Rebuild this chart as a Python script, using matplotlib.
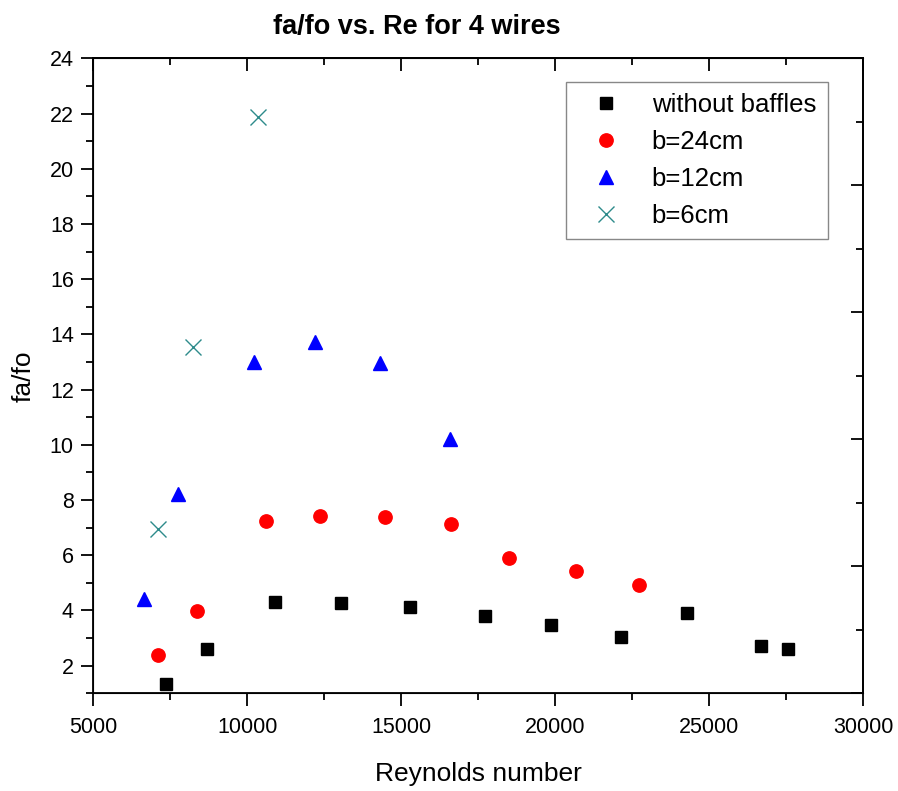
import matplotlib.pyplot as plt
from matplotlib.ticker import MultipleLocator

plt.rcParams['font.family'] = ['Liberation Sans', 'DejaVu Sans']

# data
re_none = [7350, 8690, 10900, 13030, 15270, 17720, 19860, 22120, 24270, 26670, 27570]
f_none = [1.33, 2.62, 4.30, 4.28, 4.11, 3.79, 3.46, 3.04, 3.91, 2.71, 2.61]

re_24 = [7110, 8360, 10610, 12360, 14480, 16610, 18510, 20680, 22710]
f_24 = [2.38, 3.99, 7.25, 7.42, 7.37, 7.13, 5.90, 5.42, 4.91]

re_12 = [6650, 7740, 10220, 12210, 14310, 16580]
f_12 = [4.42, 8.22, 13.01, 13.73, 12.95, 10.22]

re_6 = [7090, 8250, 10340]
f_6 = [6.95, 13.55, 21.88]

fig = plt.figure(figsize=(8.98, 7.91), dpi=100)
ax = fig.add_axes([0.1039, 0.1235, 0.8575, 0.8028])

ax.plot(re_none, f_none, 's', color='black', ms=9, label='without baffles')
ax.plot(re_24, f_24, 'o', color='red', ms=9.6, label='b=24cm')
ax.plot(re_12, f_12, '^', color='blue', ms=10.5, label='b=12cm')
ax.plot(re_6, f_6, 'x', color='#2e8b8b', ms=11.5, mew=1.0, label='b=6cm')

ax.set_xlim(5000, 30000)
ax.set_ylim(1, 24)
ax.xaxis.set_major_locator(MultipleLocator(5000))
ax.xaxis.set_minor_locator(MultipleLocator(2500))
ax.yaxis.set_major_locator(MultipleLocator(2))
ax.yaxis.set_minor_locator(MultipleLocator(1))
ax.set_yticks(range(2, 25, 2))

for s in ax.spines.values():
    s.set_linewidth(1.3)

ax.tick_params(which='both', direction='out', width=1.3, labelsize=15.5,
               top=False, right=False)
ax.tick_params(which='major', length=9)
ax.tick_params(which='minor', length=5)
ax.tick_params(axis='x', which='major', pad=8)
ax.tick_params(axis='y', which='major', pad=5)

# top ticks pointing inward
axt = ax.secondary_xaxis('top')
axt.xaxis.set_major_locator(MultipleLocator(5000))
axt.xaxis.set_minor_locator(MultipleLocator(2500))
axt.tick_params(which='both', direction='in', width=1.3, labeltop=False)
axt.tick_params(which='major', length=9)
axt.tick_params(which='minor', length=5)
axt.spines['top'].set_linewidth(1.3)

# right axis in Origin style, own scale, inward ticks, no labels
axr = ax.twinx()
axr.set_ylim(0, 10)
axr.yaxis.set_major_locator(MultipleLocator(2))
axr.yaxis.set_minor_locator(MultipleLocator(1))
axr.tick_params(which='both', direction='in', width=1.3, labelright=False)
axr.tick_params(which='major', length=9)
axr.tick_params(which='minor', length=5)
axr.spines['right'].set_linewidth(1.3)

ax.set_xlabel('Reynolds number', fontsize=19, labelpad=17)
ax.set_ylabel('fa/fo', fontsize=19, labelpad=10)
fig.text(0.464, 0.966, 'fa/fo vs. Re for 4 wires', fontsize=19.5,
         fontweight='bold', ha='center', va='center')

leg = ax.legend(loc='upper left', bbox_to_anchor=(0.630, 0.8967),
                bbox_transform=fig.transFigure, borderaxespad=0,
                fontsize=18.5, frameon=True, fancybox=False, framealpha=1,
                edgecolor='#888888', handletextpad=0.7, labelspacing=0.5,
                borderpad=0.45, handlelength=2.2)
leg.get_frame().set_linewidth(1.0)

fig.savefig('out.png', dpi=100)
